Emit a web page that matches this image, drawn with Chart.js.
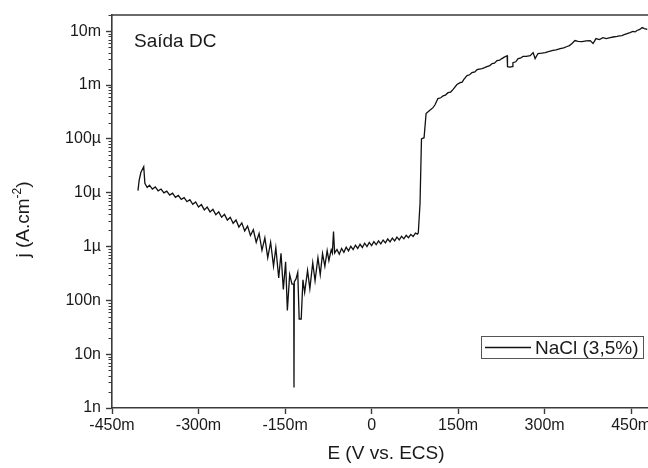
<!DOCTYPE html>
<html>
<head>
<meta charset="utf-8">
<script src="https://cdn.jsdelivr.net/npm/chart.js@4.4.0/dist/chart.umd.min.js"></script>
<style>
  html, body { margin: 0; padding: 0; background: #fff; overflow: hidden; }
  #wrap { width: 680px; height: 468px; position: relative; }
</style>
</head>
<body>
<div id="wrap"><canvas id="polarChart"></canvas></div>
<script>
// potencial (mV vs. ECS) e densidade de corrente (A/cm2)
const potential = [
  -405, -403, -400, -395, -393,
  -389, -385, -380, -375, -370, -365, -360, -355, -350, -345,
  -340, -335, -330, -325, -320, -315, -310, -305, -300, -295,
  -290, -285, -280, -275, -270, -265, -260, -255, -250, -245,
  -240, -235, -230, -225, -220, -215, -210, -205, -200, -195,
  -190, -185, -180, -175, -170, -166, -161, -157, -153, -149,
  -146, -142, -138, -135, -134.5, -134, -131, -128, -125.5, -122,
  -119, -116, -111, -107, -102, -98, -93, -89, -85, -81,
  -77, -74, -70, -68, -66, -64,
  -60, -56, -52, -48, -44, -40, -36, -32, -28, -24,
  -20, -16, -12, -8, -4, 0, 4, 8, 12, 16,
  20, 24, 28, 32, 36, 40, 44, 48, 52, 56,
  60, 64, 68, 72, 76, 79.5,
  81, 84, 86.5, 91, 94.5, 101, 106.5, 110, 115, 120,
  124, 128, 132.5, 137, 141, 148, 153.5, 157, 160, 165.5,
  170, 174, 179, 183, 187, 191.5, 196, 200, 205, 209,
  213, 217.5, 222, 226, 230, 235, 235.6, 240, 243.5, 245,
  250, 254, 258, 262.5, 268, 275, 280, 283.5, 288.5, 295,
  301, 308, 314.5, 320, 327, 333, 339, 343, 347.5, 352.5,
  358, 365, 372, 379, 384, 389, 395, 401, 407, 413.5,
  419, 425.5, 430, 434, 438, 443, 448, 453, 457, 460,
  465, 469, 473, 478
];
const currentDensity = [
  1.09e-5, 1.68e-5, 2.37e-5, 3.05e-5, 1.5e-5,
  1.25e-5, 1.38e-5, 1.17e-5, 1.28e-5, 1.08e-5, 1.17e-5, 9.9e-6, 1.07e-5, 9.0e-6, 9.8e-6,
  8.2e-6, 8.9e-6, 7.5e-6, 8.1e-6, 6.8e-6, 7.4e-6, 6.1e-6, 6.7e-6, 5.4e-6, 6.0e-6,
  4.8e-6, 5.4e-6, 4.4e-6, 4.9e-6, 3.9e-6, 4.4e-6, 3.5e-6, 3.95e-6, 3.1e-6, 3.5e-6,
  2.7e-6, 3.1e-6, 2.3e-6, 2.75e-6, 1.95e-6, 2.4e-6, 1.6e-6, 2.05e-6, 1.2e-6, 1.75e-6,
  8.5e-7, 1.45e-6, 6.2e-7, 1.2e-6, 4.3e-7, 9.5e-7, 2.6e-7, 7.5e-7, 1.6e-7, 5.2e-7,
  6.5e-8, 3.0e-7, 2.0e-7, 2.0e-7, 2.4e-9, 2.2e-7, 2.5e-7, 3.3e-7, 4.5e-8, 4.5e-8,
  2.4e-7, 1.4e-7, 3.6e-7, 1.65e-7, 5.0e-7, 2.3e-7, 6.2e-7, 3.0e-7, 7.4e-7, 4.3e-7,
  8.4e-7, 5.5e-7, 8.7e-7, 7.6e-7, 1.9e-6, 7.6e-7,
  8.8e-7, 7.2e-7, 9.2e-7, 7.8e-7, 9.7e-7, 8.3e-7, 1.01e-6, 8.8e-7, 1.06e-6, 9.2e-7,
  1.1e-6, 9.6e-7, 1.15e-6, 1.0e-6, 1.19e-6, 1.04e-6, 1.23e-6, 1.08e-6, 1.27e-6, 1.12e-6,
  1.32e-6, 1.17e-6, 1.38e-6, 1.22e-6, 1.43e-6, 1.27e-6, 1.49e-6, 1.33e-6, 1.55e-6, 1.39e-6,
  1.61e-6, 1.46e-6, 1.68e-6, 1.53e-6, 1.78e-6, 1.7e-6,
  1.8e-6, 6.3e-6, 1.0e-4, 1.05e-4, 2.95e-4, 3.4e-4, 3.8e-4, 4.3e-4, 5.6e-4, 5.8e-4,
  6.3e-4, 6.5e-4, 7.2e-4, 7.4e-4, 8.2e-4, 1.02e-3, 1.11e-3, 1.13e-3, 1.27e-3, 1.5e-3,
  1.55e-3, 1.7e-3, 1.75e-3, 1.94e-3, 1.98e-3, 2.02e-3, 2.1e-3, 2.2e-3, 2.3e-3, 2.5e-3,
  2.55e-3, 2.85e-3, 2.9e-3, 3.1e-3, 3.3e-3, 3.5e-3, 2.2e-3, 2.15e-3, 2.2e-3, 2.6e-3,
  2.7e-3, 3.1e-3, 3.15e-3, 3.4e-3, 3.4e-3, 3.5e-3, 4.0e-3, 3.1e-3, 3.85e-3, 3.9e-3,
  4.0e-3, 4.2e-3, 4.4e-3, 4.5e-3, 4.75e-3, 4.9e-3, 5.2e-3, 5.4e-3, 5.9e-3, 6.7e-3,
  6.5e-3, 6.4e-3, 6.6e-3, 6.7e-3, 5.9e-3, 7.3e-3, 7.0e-3, 7.6e-3, 7.3e-3, 7.6e-3,
  7.8e-3, 8.0e-3, 8.2e-3, 8.3e-3, 8.6e-3, 9.0e-3, 9.4e-3, 9.9e-3, 9.7e-3, 1.03e-2,
  1.08e-2, 1.17e-2, 1.12e-2, 1.08e-2
];

const xTicks = [-450, -300, -150, 0, 150, 300, 450];
const yDecades = [1e-9, 1e-8, 1e-7, 1e-6, 1e-5, 1e-4, 1e-3, 1e-2];
const yLabels = ['1n', '10n', '100n', '1\u00B5', '10\u00B5', '100\u00B5', '1m', '10m'];
const yMinorSteps = [2, 3, 4, 5, 6, 7, 8, 9];

const seriesName = 'NaCl (3,5%)';
const panelLabel = 'Sa\u00EDda DC';
const xTitle = 'E (V vs. ECS)';

const FONT = '"Liberation Sans", Arial, sans-serif';
const AXIS_COLOR = '#3a3a3a';

// desenha moldura superior, ticks menores, legenda, titulos
const decorPlugin = {
  id: 'decor',
  afterDraw(chart) {
    const { ctx, chartArea: a, scales } = chart;
    const ys = scales.y;
    ctx.save();

    // linha de cima da moldura
    ctx.strokeStyle = AXIS_COLOR;
    ctx.lineWidth = 1.6;
    ctx.beginPath();
    ctx.moveTo(a.left, a.top);
    ctx.lineTo(a.right, a.top);
    ctx.stroke();

    // ticks menores no eixo y
    ctx.lineWidth = 1;
    ctx.beginPath();
    yDecades.forEach(d => {
      yMinorSteps.forEach(m => {
        const v = d * m;
        if (v > ys.max) return;
        const py = Math.round(ys.getPixelForValue(v)) + 0.5;
        ctx.moveTo(a.left - 3.5, py);
        ctx.lineTo(a.left, py);
      });
    });
    ctx.stroke();

    ctx.fillStyle = '#1a1a1a';
    ctx.textBaseline = 'alphabetic';

    // rotulo do painel
    ctx.font = '19px ' + FONT;
    ctx.textAlign = 'left';
    ctx.fillText(panelLabel, a.left + 22, a.top + 32);

    // legenda
    const bx1 = a.right - 179, bx2 = a.right - 17;
    const by1 = a.bottom - 72, by2 = a.bottom - 50;
    ctx.strokeStyle = '#555';
    ctx.lineWidth = 1;
    ctx.strokeRect(bx1 + 0.5, by1 + 0.5, bx2 - bx1, by2 - by1);
    const cy = (by1 + by2) / 2 + 0.5;
    ctx.strokeStyle = '#111';
    ctx.lineWidth = 1.3;
    ctx.beginPath();
    ctx.moveTo(bx1 + 4, cy);
    ctx.lineTo(bx1 + 50, cy);
    ctx.stroke();
    ctx.font = '19px ' + FONT;
    ctx.textBaseline = 'middle';
    ctx.fillText(seriesName, bx1 + 54, cy + 1);

    // titulo eixo x
    ctx.textAlign = 'center';
    ctx.textBaseline = 'alphabetic';
    ctx.fillText(xTitle, (a.left + a.right) / 2, 459);

    // titulo eixo y, com expoente
    ctx.translate(29, (a.top + a.bottom) / 2 + 8);
    ctx.rotate(-Math.PI / 2);
    const p1 = 'j (A.cm', sup = '-2', p3 = ')';
    ctx.font = '19px ' + FONT;
    const w1 = ctx.measureText(p1).width, w3 = ctx.measureText(p3).width;
    ctx.font = '12px ' + FONT;
    const w2 = ctx.measureText(sup).width;
    let x0 = -(w1 + w2 + w3) / 2;
    ctx.textAlign = 'left';
    ctx.font = '19px ' + FONT;
    ctx.fillText(p1, x0, 0);
    ctx.font = '12px ' + FONT;
    ctx.fillText(sup, x0 + w1, -8);
    ctx.font = '19px ' + FONT;
    ctx.fillText(p3, x0 + w1 + w2, 0);

    ctx.restore();
  }
};

new Chart(document.getElementById('polarChart'), {
  type: 'line',
  data: {
    datasets: [{
      label: seriesName,
      data: potential.map((x, i) => ({ x: x, y: currentDensity[i] })),
      borderColor: '#111',
      borderWidth: 1.3,
      pointRadius: 0,
      tension: 0,
      fill: false
    }]
  },
  options: {
    responsive: true,
    maintainAspectRatio: false,
    animation: false,
    layout: { padding: { top: 15, right: 20, left: 0, bottom: 0 } },
    plugins: { legend: { display: false }, tooltip: { enabled: false } },
    scales: {
      x: {
        type: 'linear',
        min: -450,
        max: 500,
        afterBuildTicks: s => { s.ticks = xTicks.map(v => ({ value: v })); },
        afterFit: s => { s.height = 60; },
        grid: { drawOnChartArea: false, tickLength: 6, tickColor: AXIS_COLOR, tickWidth: 1.4 },
        border: { color: AXIS_COLOR, width: 1.6 },
        ticks: {
          autoSkip: false, maxRotation: 0, padding: 2,
          color: '#1a1a1a', font: { family: FONT, size: 16 },
          callback: v => v === 0 ? '0' : v + 'm'
        }
      },
      y: {
        type: 'logarithmic',
        min: 1e-9,
        max: 2e-2,
        afterBuildTicks: s => { s.ticks = yDecades.map(v => ({ value: v })); },
        afterFit: s => { s.width = 112; },
        grid: { drawOnChartArea: false, tickLength: 6, tickColor: AXIS_COLOR, tickWidth: 1.4 },
        border: { color: AXIS_COLOR, width: 1.6 },
        ticks: {
          autoSkip: false, padding: 5,
          color: '#1a1a1a', font: { family: FONT, size: 16 },
          callback: v => {
            const i = yDecades.indexOf(v);
            return i >= 0 ? yLabels[i] : '';
          }
        }
      }
    }
  },
  plugins: [decorPlugin]
});
</script>
</body>
</html>
